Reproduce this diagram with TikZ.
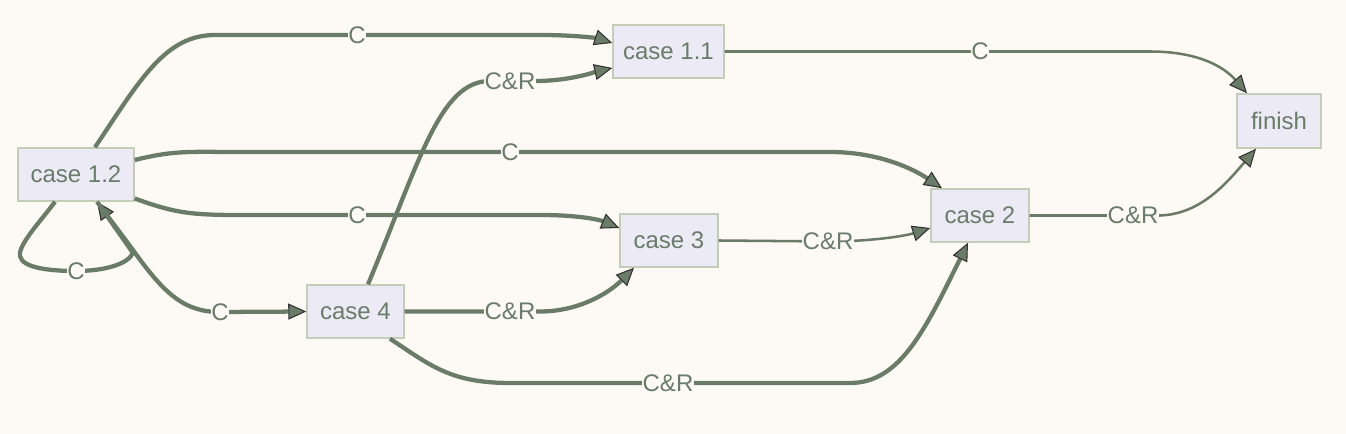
\documentclass[tikz,border=0pt]{standalone}
\usepackage{fontspec}
\setmainfont{Liberation Sans}
\usetikzlibrary{arrows.meta,calc}
\definecolor{bgc}{RGB}{253,249,245}
\definecolor{edgec}{RGB}{106,124,104}
\definecolor{nodefill}{RGB}{236,234,244}
\definecolor{nodedraw}{RGB}{196,205,184}
\definecolor{txtc}{RGB}{106,124,106}
\definecolor{tipdraw}{RGB}{50,50,50}
\begin{document}
\begin{tikzpicture}[x=0.75pt,y=-0.75pt,
  box/.style={draw=nodedraw, fill=nodefill, line width=1.1pt, text=txtc,
    font=\fontsize{18}{21}\selectfont, minimum height=39.75pt, inner sep=0pt},
  lbl/.style={fill=bgc, text=txtc, font=\fontsize{18}{21}\selectfont, inner sep=0.6pt},
  tipA/.style={-{Triangle[length=13.5pt,width=12pt,fill=edgec,color=tipdraw,line width=0.8pt]}},
  tedge/.style={draw=edgec, line width=3.2pt, tipA},
  nedge/.style={draw=edgec, line width=1.9pt, tipA}]
\fill[bgc] (0,0) rectangle (1346,434);
\useasboundingbox (0,0) rectangle (1346,434);

% nodes
\node[box, minimum width=83.25pt] (c11) at (668.5,51.5) {case 1.1};
\node[box, minimum width=87pt] (c12) at (76,174.5) {case 1.2};
\node[box, minimum width=63pt, minimum height=40.5pt] (finish) at (1279,121) {finish};
\node[box, minimum width=73.5pt] (c2) at (980,215.5) {case 2};
\node[box, minimum width=73.5pt] (c3) at (669,240.5) {case 3};
\node[box, minimum width=72.75pt] (c4) at (355.5,311.5) {case 4};

% label positions
\coordinate (p1) at (357,35);
\coordinate (p2) at (510,81);
\coordinate (p3) at (980,51.5);
\coordinate (p4) at (510,152);
\coordinate (p5) at (357,215);
\coordinate (p6) at (76,271);
\coordinate (p7) at (220,312);
\coordinate (p8) at (510,311.5);
\coordinate (p9) at (668,383);
\coordinate (p10) at (828,241.5);
\coordinate (p11) at (1133,215.5);

% edges
\draw[tedge] ($(c12.north)+(19,0)$) .. controls (140,80) and (165,35) .. (215,35)
  -- (p1) -- (540,35) .. controls (580,35) and (600,39) .. ($(c11.west)+(0,-8.5)$);
\draw[tedge] ($(c4.north)+(12.5,0)$) .. controls (420,160) and (440,81) .. (490,81)
  -- (p2) -- (535,81) .. controls (570,81) and (595,72) .. ($(c11.west)+(0,16.5)$);
\draw[nedge] (c11.east) -- (p3) -- (1150,51.5) .. controls (1200,51.5) and (1225,68) .. ($(finish.north)+(-32,0)$);
\draw[tedge] ($(c12.east)+(0,-14.5)$) .. controls (175,150) and (190,152) .. (240,152)
  -- (p4) -- (830,152) .. controls (880,152) and (915,170) .. ($(c2.north)+(-38,0)$);
\draw[tedge] ($(c12.east)+(0,24)$) .. controls (175,213) and (190,215) .. (240,215)
  -- (p5) -- (540,215) .. controls (580,215) and (600,220) .. ($(c3.west)+(0,-12.5)$);
\draw[tedge] ($(c12.south)+(-21,0)$) .. controls (40,222) and (18,245) .. (20,256)
  .. controls (22,268) and (50,271) .. (p6) .. controls (105,271) and (128,264) .. (133,253)
  -- ($(c12.south)+(21,0)$);
\draw[tedge] ($(c12.south)+(21,0)$) -- (133,250) .. controls (165,295) and (185,312) .. (p7) -- (c4.west);
\draw[tedge] (c4.east) -- (p8) -- (540,311.5) .. controls (580,311.5) and (610,292) .. ($(c3.south)+(-35,0)$);
\draw[tedge] ($(c4.south)+(34.5,0)$) .. controls (430,365) and (450,383) .. (510,383)
  -- (p9) -- (850,383) .. controls (900,383) and (925,330) .. ($(c2.south)+(-12,0)$);
\draw[nedge] (c3.east) -- (p10) .. controls (870,241.5) and (905,236) .. ($(c2.west)+(0,12.5)$);
\draw[nedge] (c2.east) -- (p11) -- (1160,215.5) .. controls (1200,214) and (1225,185) .. ($(finish.south)+(-23,0)$);

% labels
\node[lbl] (l1) at (p1) {C};
\node[lbl] (l2) at (p2) {C\&R};
\node[lbl] (l3) at (p3) {C};
\node[lbl] (l4) at (p4) {C};
\node[lbl] (l5) at (p5) {C};
\node[lbl] (l6) at (p6) {C};
\node[lbl] (l7) at (p7) {C};
\node[lbl] (l8) at (p8) {C\&R};
\node[lbl] (l9) at (p9) {C\&R};
\node[lbl] (l10) at (p10) {C\&R};
\node[lbl] (l11) at (p11) {C\&R};
\end{tikzpicture}
\end{document}
